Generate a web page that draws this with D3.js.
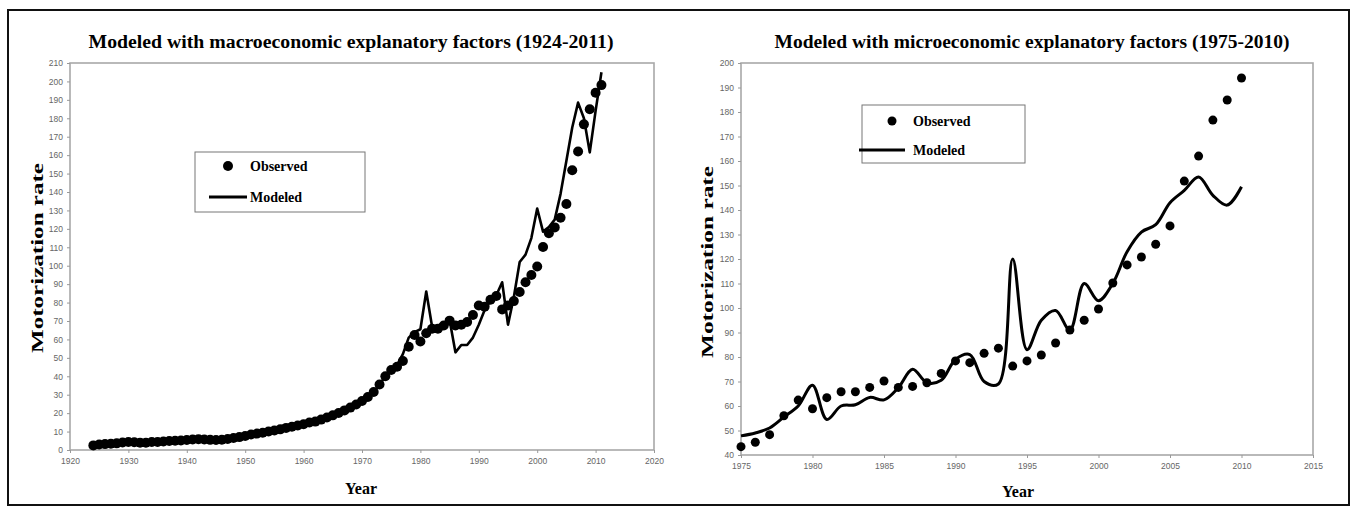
<!DOCTYPE html>
<html>
<head>
<meta charset="utf-8">
<script src="https://cdn.jsdelivr.net/npm/d3@7"></script>
<style>
  html, body { margin: 0; padding: 0; background: #fff; }
  svg { display: block; }
</style>
</head>
<body>
<svg id="chart" width="1357" height="512"></svg>
<script>
// Observed motorization rate, 1924-2011
const obsYears = d3.range(1924, 2012);
const observed = [
  2.5, 3.0, 3.2, 3.4, 3.6, 4.1, 4.3, 4.2, 4.0, 3.9,
  4.3, 4.4, 4.6, 4.9, 5.0, 5.2, 5.4, 5.7, 5.9, 5.7,
  5.5, 5.4, 5.6, 6.0, 6.5, 7.0, 7.6, 8.4, 8.9, 9.4,
  10.0, 10.6, 11.2, 12.0, 12.6, 13.3, 14.0, 14.9, 15.4, 16.5,
  17.6, 18.8, 20.1, 21.5, 23.0, 24.7, 26.6, 28.8, 31.5, 35.5,
  40.0, 43.4, 45.2, 48.3, 56.0, 62.4, 58.9, 63.4, 65.8, 65.8,
  67.6, 70.2, 67.6, 68.0, 69.5, 73.3, 78.4, 77.7, 81.5, 83.6,
  76.3, 78.4, 80.8, 85.7, 91.0, 95.0, 99.6, 110.2, 117.6, 120.8,
  126.0, 133.5, 151.8, 162.0, 176.7, 184.9, 193.9, 198.0
];

// Macroeconomic model, 1924-2011
const modeledMacro = [
  2.8, 3.1, 3.3, 3.5, 3.7, 4.0, 4.2, 4.1, 4.1, 4.0,
  4.2, 4.4, 4.7, 4.9, 5.1, 5.3, 5.5, 5.6, 5.8, 5.6,
  5.5, 5.5, 5.7, 6.1, 6.6, 7.1, 7.7, 8.3, 8.8, 9.5,
  10.1, 10.7, 11.3, 11.9, 12.5, 13.2, 14.1, 14.8, 15.6, 16.6,
  17.5, 18.9, 20.2, 21.4, 23.1, 24.8, 26.5, 29.0, 31.8, 35.0,
  40.5, 44.0, 46.0, 52.0, 61.0, 64.0, 65.5, 86.0, 67.0, 67.5,
  68.5, 70.5, 53.0, 57.0, 57.0, 61.0, 68.0, 76.0, 81.0, 84.0,
  91.0, 68.0, 83.0, 102.0, 106.0, 115.0, 131.0, 118.5, 121.0, 125.0,
  139.0, 157.0, 175.0, 188.5, 180.0, 161.5, 184.0, 205.0
];

// Microeconomic model, 1975-2010
const microYears = d3.range(1975, 2011);
const modeledMicro = [
  47.8, 49.0, 51.0, 55.5, 60.0, 68.5, 54.5, 60.0, 60.5, 63.5,
  62.5, 67.5, 75.0, 69.5, 70.5, 79.0, 81.0, 70.0, 69.0, 120.0,
  83.0, 95.0, 99.0, 91.0, 110.0, 103.0, 110.0, 123.0, 131.0, 134.0,
  143.0, 148.0, 153.5, 146.0, 142.0, 149.5
];

// Axis tick values
const macroXTicks = [1920, 1930, 1940, 1950, 1960, 1970, 1980, 1990, 2000, 2010, 2020];
const macroYTicks = d3.range(0, 211, 10);
const microXTicks = [1975, 1980, 1985, 1990, 1995, 2000, 2005, 2010, 2015];
const microYTicks = d3.range(40, 201, 10);

const obsRows = obsYears.map((yr, i) => ({ year: yr, value: observed[i] }));
const macroRows = obsYears.map((yr, i) => ({ year: yr, value: modeledMacro[i] }));
const microObsRows = obsRows.filter(d => d.year >= 1975 && d.year <= 2010);
const microRows = microYears.map((yr, i) => ({ year: yr, value: modeledMicro[i] }));

const svg = d3.select("#chart");
const SERIF = "'Liberation Serif', 'Times New Roman', serif";
const SANS = "'Liberation Sans', Arial, sans-serif";

svg.append("rect").attr("width", 1357).attr("height", 512).attr("fill", "#fff");
// outer frame
svg.append("rect")
  .attr("x", 8).attr("y", 10).attr("width", 1341).attr("height", 495)
  .attr("fill", "none").attr("stroke", "#111").attr("stroke-width", 2);

function drawPanel(cfg) {
  const g = svg.append("g");
  const x = d3.scaleLinear().domain(cfg.xDomain).range(cfg.xRange);
  const y = d3.scaleLinear().domain(cfg.yDomain).range(cfg.yRange);

  // plot frame
  g.append("rect")
    .attr("x", cfg.xRange[0]).attr("y", cfg.yRange[1])
    .attr("width", cfg.xRange[1] - cfg.xRange[0])
    .attr("height", cfg.yRange[0] - cfg.yRange[1])
    .attr("fill", "none").attr("stroke", "#a8a8a8").attr("stroke-width", 1.6);

  const yAxis = g.append("g")
    .attr("transform", `translate(${cfg.xRange[0]},0)`)
    .call(d3.axisLeft(y).tickValues(cfg.yTicks).tickSize(3).tickPadding(4).tickFormat(d3.format("d")));
  const xAxis = g.append("g")
    .attr("transform", `translate(0,${cfg.yRange[0]})`)
    .call(d3.axisBottom(x).tickValues(cfg.xTicks).tickSize(3).tickPadding(5).tickFormat(d3.format("d")));
  [yAxis, xAxis].forEach(a => {
    a.select(".domain").remove();
    a.selectAll(".tick line").attr("stroke", "#999");
    a.selectAll(".tick text").attr("fill", "#666")
      .style("font-family", SANS).style("font-size", "8.5px");
  });

  // modeled line
  const line = d3.line()
    .x(d => x(d.year)).y(d => y(d.value))
    .curve(cfg.curve);
  g.append("path").datum(cfg.modeled)
    .attr("d", line).attr("fill", "none")
    .attr("stroke", "#000").attr("stroke-width", cfg.lineWidth)
    .attr("stroke-linejoin", "round");

  // observed points
  g.selectAll("circle.obs").data(cfg.observed).join("circle")
    .attr("class", "obs")
    .attr("cx", d => x(d.year)).attr("cy", d => y(d.value))
    .attr("r", cfg.dotR).attr("fill", "#000");

  // titles
  g.append("text")
    .attr("x", cfg.title.x).attr("y", cfg.title.y)
    .attr("text-anchor", "middle")
    .attr("textLength", cfg.title.w).attr("lengthAdjust", "spacingAndGlyphs")
    .style("font-family", SERIF).style("font-weight", "bold").style("font-size", "18.5px")
    .text(cfg.title.text);
  g.append("text")
    .attr("transform", `translate(${cfg.yLabel.x},${cfg.yLabel.y}) rotate(-90)`)
    .attr("text-anchor", "middle")
    .attr("textLength", cfg.yLabel.w).attr("lengthAdjust", "spacingAndGlyphs")
    .style("font-family", SERIF).style("font-weight", "bold").style("font-size", "17px")
    .text("Motorization rate");
  g.append("text")
    .attr("x", cfg.xLabel.x).attr("y", cfg.xLabel.y)
    .attr("text-anchor", "middle")
    .style("font-family", SERIF).style("font-weight", "bold").style("font-size", "16px")
    .text("Year");

  // legend
  const L = cfg.legend;
  const lg = g.append("g");
  lg.append("rect").attr("x", L.x).attr("y", L.y).attr("width", L.w).attr("height", L.h)
    .attr("fill", "#fff").attr("stroke", "#777").attr("stroke-width", 1);
  lg.append("circle").attr("cx", L.dotX).attr("cy", L.row1).attr("r", cfg.dotR).attr("fill", "#000");
  lg.append("line").attr("x1", L.lineX1).attr("x2", L.lineX2)
    .attr("y1", L.row2).attr("y2", L.row2)
    .attr("stroke", "#000").attr("stroke-width", 3);
  [["Observed", L.row1], ["Modeled", L.row2]].forEach(([t, ry]) => {
    lg.append("text").attr("x", L.textX).attr("y", ry + 5)
      .style("font-family", SERIF).style("font-weight", "bold").style("font-size", "14px")
      .text(t);
  });
}

drawPanel({
  xDomain: [1920, 2020], xRange: [70, 654],
  yDomain: [0, 210], yRange: [450, 63],
  xTicks: macroXTicks, yTicks: macroYTicks,
  observed: obsRows, modeled: macroRows,
  curve: d3.curveLinear, lineWidth: 2.6, dotR: 5,
  title: { x: 351, y: 48, w: 525, text: "Modeled with macroeconomic explanatory factors (1924-2011)" },
  yLabel: { x: 43, y: 258, w: 190 },
  xLabel: { x: 361, y: 494 },
  legend: { x: 195, y: 152, w: 170, h: 60, dotX: 228, row1: 166, lineX1: 209, lineX2: 247, row2: 197, textX: 250 }
});

drawPanel({
  xDomain: [1975, 2015], xRange: [741, 1313],
  yDomain: [40, 200], yRange: [455, 63],
  xTicks: microXTicks, yTicks: microYTicks,
  observed: microObsRows, modeled: microRows,
  curve: d3.curveCatmullRom.alpha(0.5), lineWidth: 3, dotR: 4.5,
  title: { x: 1032, y: 48, w: 515, text: "Modeled with microeconomic explanatory factors (1975-2010)" },
  yLabel: { x: 713, y: 262, w: 192 },
  xLabel: { x: 1018, y: 497 },
  legend: { x: 862, y: 105, w: 163, h: 58, dotX: 892, row1: 121, lineX1: 859, lineX2: 905, row2: 150, textX: 913 }
});
</script>
</body>
</html>
